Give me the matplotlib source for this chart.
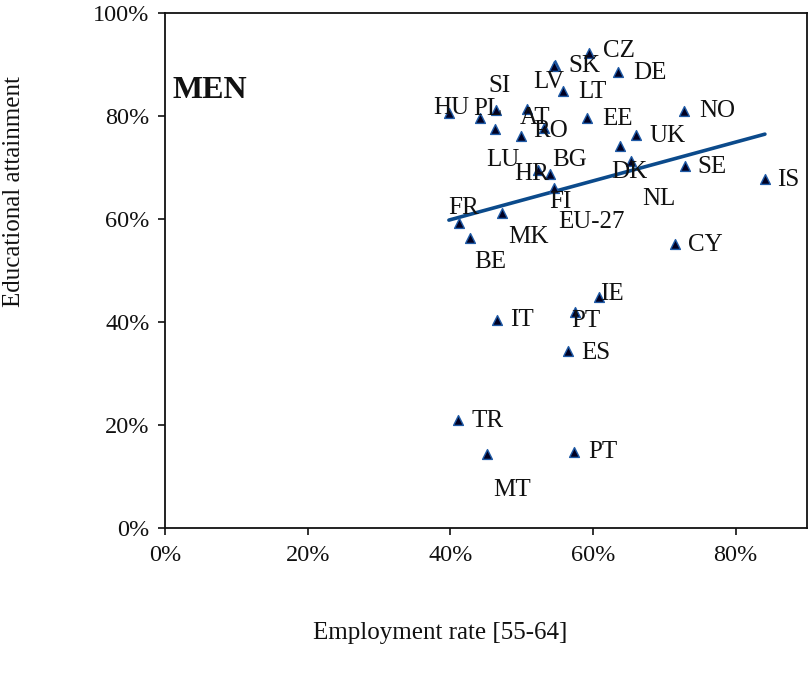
import numpy as np
import matplotlib
matplotlib.use("Agg")
import matplotlib.pyplot as plt
from matplotlib.ticker import PercentFormatter

# ---- data ----
countries = ["HU", "PL", "SI", "LU", "AT", "RO", "EU-27", "SK", "LV", "CZ", "DE",
             "LT", "EE", "UK", "NL", "DK", "HR", "BG", "FI", "FR", "MK", "BE",
             "NO", "SE", "IS", "CY", "IE", "PT", "IT", "ES", "TR", "MT", "PT"]
employment = [39.8, 44.2, 46.4, 46.3, 50.7, 53.1, 49.9, 54.7, 54.6, 59.5, 63.5,
              55.8, 59.2, 66.0, 63.8, 65.3, 52.3, 54.0, 54.5, 41.2, 47.3, 42.7,
              72.8, 72.9, 84.1, 71.5, 60.8, 57.5, 46.5, 56.5, 41.1, 45.1, 57.3]
attainment = [80.6, 79.7, 81.2, 77.4, 81.4, 77.6, 76.1, 89.9, 89.8, 92.3, 88.6,
              84.9, 79.7, 76.3, 74.2, 71.3, 69.5, 68.7, 66.0, 59.3, 61.1, 56.4,
              81.0, 70.2, 67.8, 55.1, 44.9, 42.0, 40.4, 34.4, 21.0, 14.3, 14.8]

x_ticks = [0, 20, 40, 60, 80]
y_ticks = [0, 20, 40, 60, 80, 100]

# label offsets in pixels (dx right, dy up) -- styling only
label_offsets_px = [(2, 5), (7, 9), (4, 24), (8, -31), (8, -9), (7, -3), (71, -86),
                    (29, -1), (-6, -16), (30, 2), (32, -1),
                    (29, -1), (30, -1), (32, -1), (39, -53), (-1, -11), (-6, -4),
                    (19, 14), (7, -14), (5, 15), (26, -24), (21, -24),
                    (33, 0), (27, -1), (23, -1), (30, -1), (13, 3), (11, -9),
                    (25, 0), (28, -2), (29, -1), (25, -36), (29, 0)]

FONT = "Liberation Serif"
plt.rcParams["font.family"] = [FONT, "DejaVu Serif"]

W, H = 810, 673
fig = plt.figure(figsize=(W / 100, H / 100), dpi=100)
ax = fig.add_axes([165 / W, 1 - 528 / H, (807 - 165) / W, (528 - 13) / H])

x = np.array(employment)
y = np.array(attainment)

# linear trend line over the data range
coef = np.polyfit(x, y, 1)
xt = np.array([x.min(), x.max()])
ax.plot(xt, np.polyval(coef, xt), color="#0B4A8B", lw=2.6, solid_capstyle="round", zorder=2)

ax.scatter(x, y, marker="^", s=50, facecolor="#000022", edgecolor="#1F5AA6",
           linewidths=1.0, zorder=3)

for name, xi, yi, (dx, dy) in zip(countries, x, y, label_offsets_px):
    ax.annotate(name, (xi, yi), xytext=(dx * 0.72, dy * 0.72), textcoords="offset points",
                ha="center", va="center", fontsize=18, color="#111111", zorder=4)

ax.set_xlim(0, 90)
ax.set_ylim(0, 100)
ax.set_xticks(x_ticks)
ax.set_yticks(y_ticks)
ax.xaxis.set_major_formatter(PercentFormatter(decimals=0))
ax.yaxis.set_major_formatter(PercentFormatter(decimals=0))
ax.tick_params(axis="both", direction="out", length=5, width=1.2, labelsize=17.5,
               colors="#111111")
ax.tick_params(axis="x", pad=7)
ax.tick_params(axis="y", pad=6)
for sp in ax.spines.values():
    sp.set_linewidth(1.3)
    sp.set_color("#111111")

ax.text(0.012, 0.85, "MEN", transform=ax.transAxes, fontsize=23, fontweight="bold",
        ha="left", va="center", color="#111111")

fig.text(440 / W, 1 - 633 / H, "Employment rate [55-64]", ha="center", va="center",
         fontsize=18, color="#111111")
fig.text(14 / W, 1 - 192 / H, "Educational attainment", ha="center", va="center",
         rotation=90, fontsize=18, color="#111111")

fig.savefig("out.png", dpi=100)
